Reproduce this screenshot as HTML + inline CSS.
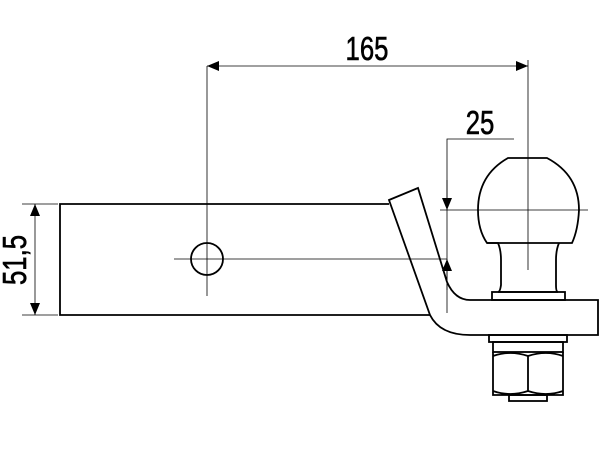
<!DOCTYPE html>
<html><head><style>body{margin:0;background:#fff}</style></head><body>
<svg width="600" height="450" viewBox="0 0 600 450" xmlns="http://www.w3.org/2000/svg">
<defs>
<marker id="a" markerWidth="12" markerHeight="10" refX="12" refY="5" orient="auto" markerUnits="userSpaceOnUse"><path d="M0,0 L12,5 L0,10z" fill="#000"/></marker>
</defs>
<g fill="none" stroke="#000" stroke-width="1.8">
<path d="M389,204 L60,204 L60,315 L430,315"/>
<path d="M389,200 L418,188 L447,282 Q455,300 470,300 L598,300 L598,335 L470,335 Q440,335 430,315 Z" fill="#fff"/>
<path d="M508,158 L547,158 Q579,175 579,210 Q578,230 572,243 L487,243 Q478,230 478,210 Q478,175 508,158 Z"/>
<path d="M487,243 L498,243 Q501,250 501,260 L501,285 Q500,292 498,292 L558,292 Q556,292 556,285 L556,260 Q556,250 559,243"/>
<rect x="492" y="292" width="73" height="8"/>
<rect x="489" y="335" width="78" height="7"/>
<rect x="493" y="342" width="70" height="10"/>
<path d="M493,352 L493,395 L563,395 L563,352 M493,356 Q510,350 528,356 Q546,350 563,356 M493,391 Q510,397 528,391 Q546,397 563,391 M528,356 L528,391"/>
<rect x="509" y="395" width="38" height="6"/>
<circle cx="207" cy="259" r="16"/>
</g>
<g stroke="#000" stroke-width="0.8" fill="none">
<path d="M207,66 L207,296 M174,259 L447,259 M22,204 L58,204 M22,315 L58,315 M528,60 L528,270 M440,210 L588,210 M447,139 L514,139 L447,139 L447,313 M204,259 L210,259 M207,256 L207,262"/>
<line x1="360" y1="66" x2="207" y2="66" marker-end="url(#a)"/>
<line x1="360" y1="66" x2="528" y2="66" marker-end="url(#a)"/>
<line x1="35" y1="260" x2="35" y2="204" marker-end="url(#a)"/>
<line x1="35" y1="260" x2="35" y2="315" marker-end="url(#a)"/>
<line x1="447" y1="180" x2="447" y2="210" marker-end="url(#a)"/>
<line x1="447" y1="290" x2="447" y2="259" marker-end="url(#a)"/>
</g>
<g font-family="Liberation Sans Narrow, Liberation Sans, sans-serif" font-size="33" fill="#000" stroke="#000" stroke-width="0.6">
<text x="0" y="0" text-anchor="middle" transform="translate(367,60) scale(0.78,1)">165</text>
<text x="0" y="0" text-anchor="middle" transform="translate(480,134) scale(0.78,1)">25</text>
<text x="0" y="0" text-anchor="middle" transform="translate(26,260) rotate(-90) scale(0.78,1)">51,5</text>
</g>
</svg>
</body></html>
